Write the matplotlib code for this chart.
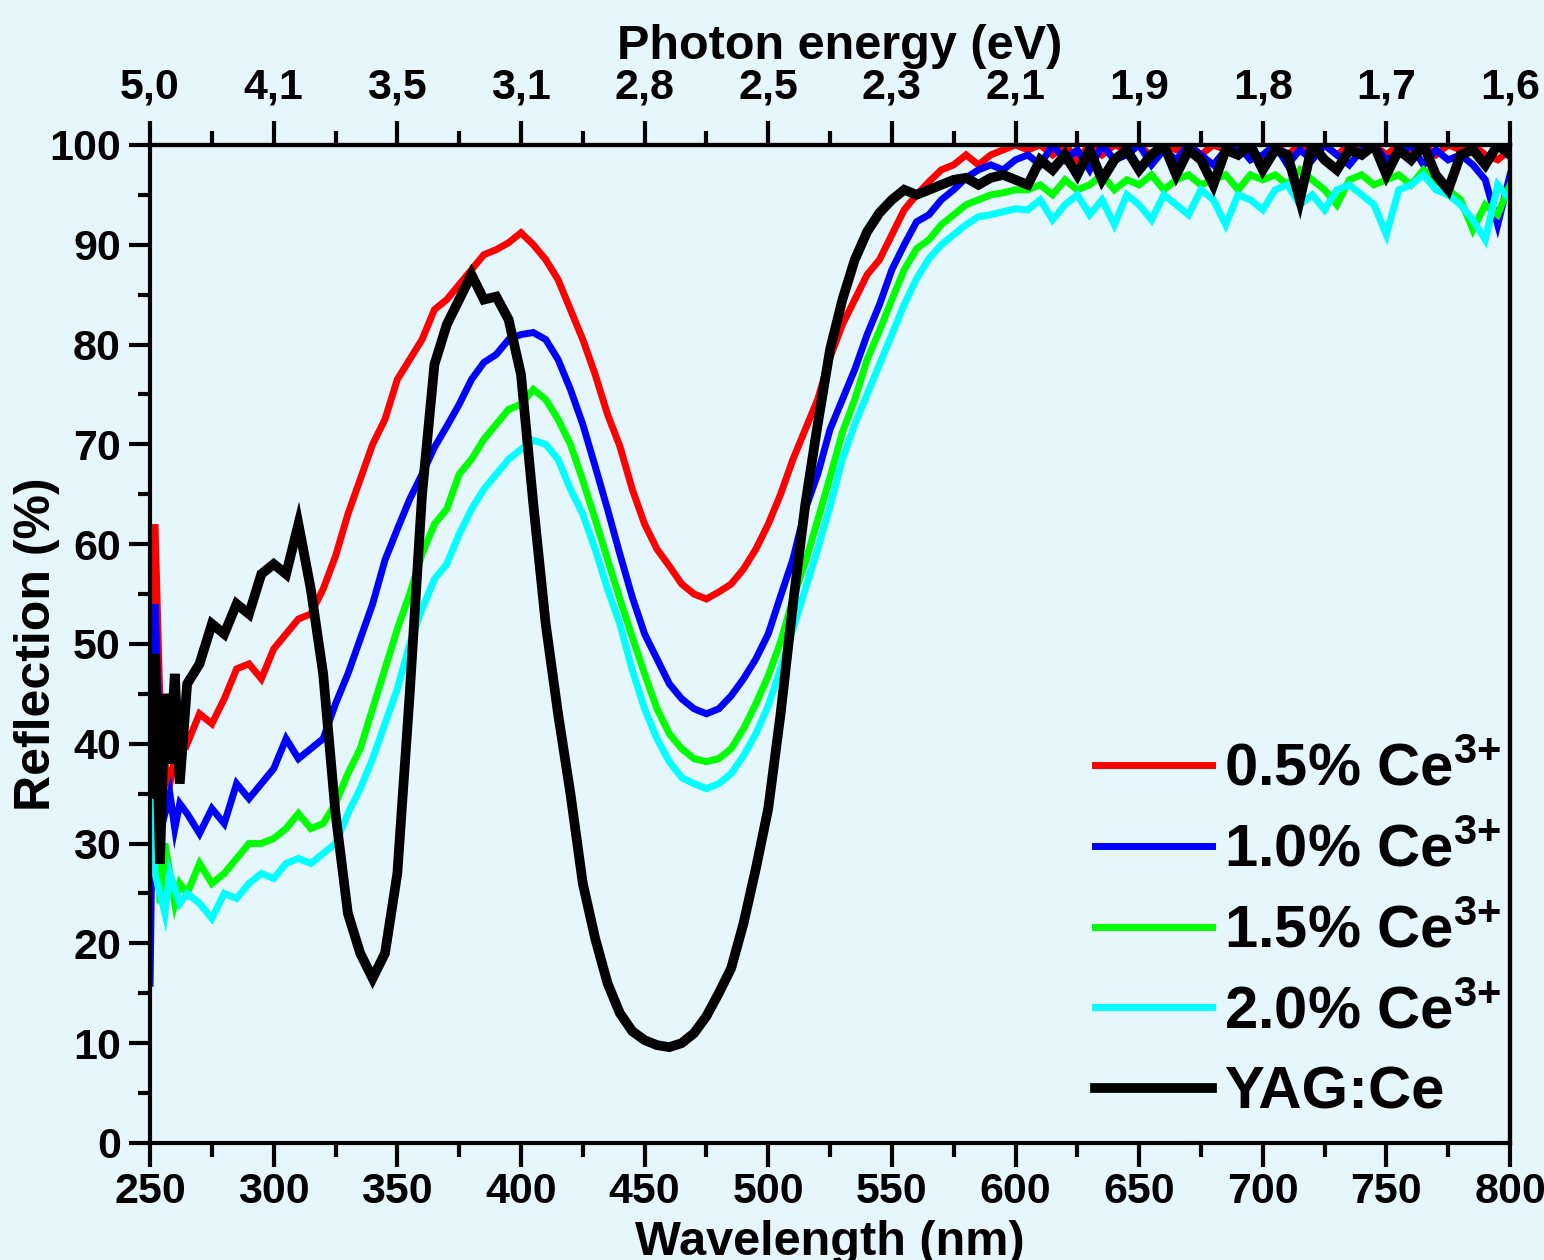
import matplotlib
matplotlib.use("Agg")
import matplotlib.pyplot as plt
from matplotlib.lines import Line2D
from matplotlib.ticker import MultipleLocator

# wavelength grid (nm)
wavelength = [250, 252, 254, 256, 258, 260, 262] + list(range(265, 801, 5))

# reflection (%)
r_05 = [45, 62, 44, 38, 36, 38.5, 41,
        40, 43, 42, 44.5, 47.5, 48, 46.5, 49.5,
        51, 52.5, 53, 55.5, 58.8, 63, 66.5, 70, 72.5, 76.5,
        78.5, 80.5, 83.5, 84.5, 86, 87.5, 89, 89.5, 90.2, 91.2,
        90, 88.5, 86.5, 83.5, 80.5, 77, 73, 69.8, 65.5, 62,
        59.5, 57.8, 56, 55, 54.5, 55.2, 56, 57.5, 59.5, 62,
        65, 68.5, 71.5, 74.5, 78.7, 82, 84.5, 87, 88.5, 91,
        93.5, 95, 96.3, 97.5, 98, 99, 98, 99, 99.5, 100,
        99.5, 100, 99, 100, 98.5, 100, 99, 100, 99.5, 100,
        98.8, 100, 99.5, 100, 99, 100, 99.5, 100, 99, 98.5,
        100, 99, 100, 99.5, 100, 99, 100, 99.5, 100, 99,
        100, 99.5, 100, 99, 100, 99.5, 100, 99, 98.5, 99.5]

r_10 = [16, 54, 40, 33, 35, 31.5, 34,
        33, 31, 33.5, 32, 36, 34.5, 36, 37.5,
        40.5, 38.5, 39.5, 40.5, 44, 47, 50.5, 54, 58.4, 61.5,
        64.5, 67, 69.7, 71.8, 74, 76.5, 78.2, 79, 80.5, 81,
        81.2, 80.5, 78.5, 75.5, 72, 67.8, 63.5, 59, 54.7, 51,
        48.5, 46, 44.5, 43.5, 43, 43.5, 44.8, 46.5, 48.5, 51,
        54.8, 58.5, 63.5, 67, 71.5, 74.5, 77.5, 81, 84, 87.5,
        90, 92.3, 93, 94.5, 95.5, 96.7, 97.5, 98, 97.5, 98.5,
        99, 98, 100, 98.5, 99.5, 97.5, 100, 98.5, 99, 100,
        98, 99.5, 98.5, 100, 99, 98, 99.5, 100, 98.5, 99,
        100, 98, 99.5, 98.5, 100, 99, 98, 99.5, 100, 98.5,
        99, 100, 98, 99.5, 98.5, 99, 98, 96.5, 92, 97]

r_15 = [30, 36, 24, 30, 27, 24, 26,
        25, 28, 26, 27, 28.5, 30, 30, 30.5,
        31.5, 33, 31.5, 32, 34, 37, 39.5, 43.5, 47.5, 51.5,
        55, 59, 62, 63.5, 67, 68.5, 70.5, 72, 73.5, 74,
        75.5, 74.5, 72.5, 70, 66.4, 62.5, 58.5, 54.5, 50.7, 47,
        43.5, 41, 39.5, 38.5, 38.2, 38.5, 39.5, 41.5, 44, 46.8,
        50.2, 54.5, 58.2, 62.4, 66.7, 71.2, 74.5, 78.5, 81.4, 84.5,
        87.5, 89.6, 90.5, 92, 93, 94, 94.5, 95, 95.2, 95.5,
        95.5, 96, 95, 96.5, 95.5, 96, 97, 95.5, 96.5, 96,
        97, 95.5, 96.5, 97, 96, 96.5, 97, 95.5, 97, 96.5,
        97, 96, 97.5, 96.5, 95.5, 94, 96.5, 97, 96, 96.5,
        97, 96, 97.5, 96.5, 95.5, 94.5, 91.5, 94, 93, 96]

r_20 = [44, 27, 25, 23, 27, 25.5, 24,
        25, 24, 22.5, 25, 24.5, 26, 27, 26.5,
        28, 28.5, 28, 29, 30, 33, 35.5, 38.5, 42, 45.5,
        50, 53.5, 56.5, 58, 61, 63.5, 65.5, 67, 68.5, 69.5,
        70.4, 70, 68.5, 65.5, 63, 59.5, 55.5, 52, 47.4, 43.5,
        40.5, 38.2, 36.6, 36, 35.5, 36, 37, 38.8, 41, 43.8,
        47.5, 51.5, 55.5, 59.5, 63.8, 68.5, 72, 75, 78, 81,
        84, 86.6, 88.6, 90, 91, 92, 92.8, 93, 93.3, 93.6,
        93.5, 94.5, 92.5, 94, 95, 93, 94.5, 92, 95, 94,
        92.5, 95, 94, 93, 95.5, 94.5, 92, 95, 94.5, 93.5,
        95.5, 96, 94, 95, 93.5, 95.5, 96, 95, 94, 91,
        95.5, 96, 97, 95.5, 95, 94, 92.5, 90.5, 96, 94.5]

r_yag = [35, 49, 28, 45, 38, 47, 36,
         46, 48, 52, 51, 54, 53, 57, 58,
         57, 62, 55.5, 47, 33, 23, 19, 16.5, 19, 27,
         45, 65, 78, 82, 84.5, 87, 84.5, 84.8, 82.5, 77,
         64, 52, 43, 35, 26, 20.5, 16, 13, 11.2, 10.3,
         9.8, 9.6, 10, 11, 12.7, 15, 17.5, 22, 27.5, 33.5,
         43, 54, 64, 72, 79.5, 84.5, 88.5, 91.3, 93.2, 94.5,
         95.5, 95, 95.5, 96, 96.5, 96.7, 96, 96.7, 97, 96.5,
         96, 98.5, 97.5, 99, 97, 99.5, 96.5, 98.5, 99.5, 97.5,
         99, 100, 97, 99.5, 98.5, 96, 99.5, 99, 100, 97.5,
         99.5, 99, 94.5, 100, 98.5, 97.5, 99.5, 99, 100, 97,
         99.5, 98.5, 100, 97, 95.5, 99, 99.5, 98, 100, 99]

series = [r_05, r_10, r_15, r_20, r_yag]
labels = ["0.5% Ce$^{3{+}}$", "1.0% Ce$^{3{+}}$", "1.5% Ce$^{3{+}}$", "2.0% Ce$^{3{+}}$", "YAG:Ce"]
colors = ["#ff0000", "#0000ff", "#00ff00", "#00ffff", "#000000"]

wl_ticks = [250, 300, 350, 400, 450, 500, 550, 600, 650, 700, 750, 800]
energy_labels = ["5,0", "4,1", "3,5", "3,1", "2,8", "2,5", "2,3", "2,1", "1,9", "1,8", "1,7", "1,6"]

bg = "#e6f6fd"
plt.rcParams["font.family"] = ["Liberation Sans", "DejaVu Sans"]
plt.rcParams["font.weight"] = "bold"
plt.rcParams["mathtext.fontset"] = "custom"
plt.rcParams["mathtext.bf"] = "Liberation Sans:bold"
plt.rcParams["mathtext.rm"] = "Liberation Sans:bold"
plt.rcParams["mathtext.default"] = "bf"

fig = plt.figure(figsize=(15.44, 12.6), dpi=100, facecolor=bg)
ax = fig.add_axes([0.0972, 0.0929, 0.8808, 0.7921], facecolor=bg)

for y, c in zip(series, colors):
    lw = 7 if c == "#000000" else 5
    ax.plot(wavelength, y, color=c, lw=lw, solid_joinstyle="miter")

ax.set_xlim(250, 800)
ax.set_ylim(0, 100)
ax.xaxis.set_major_locator(MultipleLocator(50))
ax.xaxis.set_minor_locator(MultipleLocator(25))
ax.yaxis.set_major_locator(MultipleLocator(10))
ax.yaxis.set_minor_locator(MultipleLocator(5))

for s in ax.spines.values():
    s.set_linewidth(3)

ax.tick_params(axis="x", which="major", length=17, width=3, direction="out", labelsize=31, pad=4)
ax.tick_params(axis="x", which="minor", length=10, width=3, direction="out")
ax.tick_params(axis="y", which="major", length=15, width=3, direction="out", labelsize=31, pad=6)
ax.tick_params(axis="y", which="minor", length=9, width=3, direction="out")

ax.set_xlabel("Wavelength (nm)", fontsize=35, fontweight="bold")
ax.xaxis.set_label_coords(0.5, -0.077)
ax.set_ylabel("Reflection (%)", fontsize=36, fontweight="bold")
ax.yaxis.set_label_coords(-0.066, 0.5)

top = ax.secondary_xaxis("top")
top.set_xticks(wl_ticks, energy_labels)
top.xaxis.set_minor_locator(MultipleLocator(25))
top.spines["top"].set_linewidth(3)
top.tick_params(axis="x", which="major", length=17, width=3, direction="out", labelsize=31, pad=10)
top.tick_params(axis="x", which="minor", length=10, width=3, direction="out")
top.set_xlabel("Photon energy (eV)", fontsize=35, fontweight="bold")
top.xaxis.set_label_coords(0.507, 1.086, transform=ax.transAxes)

right = ax.secondary_yaxis("right")
right.yaxis.set_major_locator(MultipleLocator(5))
right.tick_params(axis="y", length=3, width=3, direction="inout", labelright=False)
right.spines["right"].set_linewidth(3)

handles = [Line2D([], [], color=c, lw=(7 if c == "#000000" else 5)) for c in colors]
ax.legend(handles, labels, loc="lower left", bbox_to_anchor=(0.695, 0.022), frameon=False,
          fontsize=43, handlelength=1.95, handletextpad=0.2, labelspacing=0.43, borderpad=0,
          borderaxespad=0)

fig.savefig("out.png", dpi=100, facecolor=bg)
